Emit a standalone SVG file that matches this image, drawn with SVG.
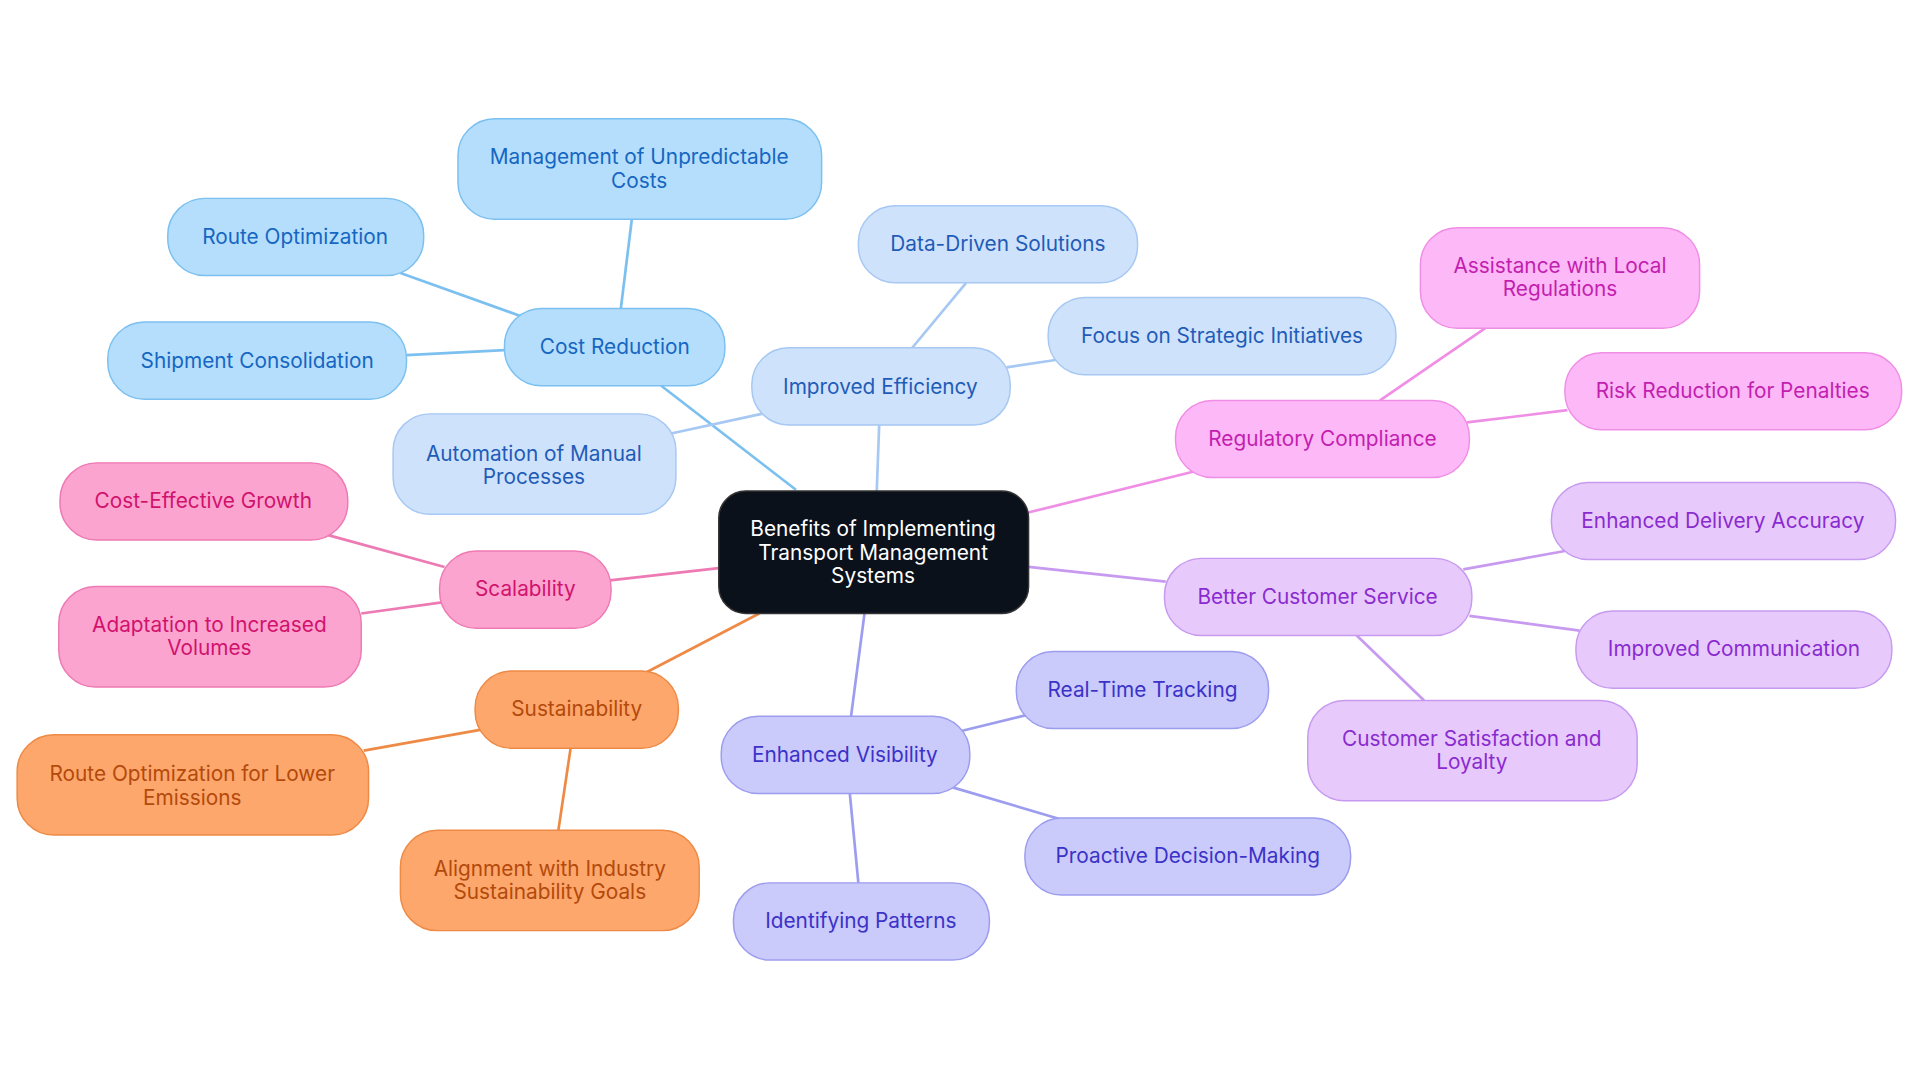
<svg xmlns="http://www.w3.org/2000/svg" width="1920" height="1083" viewBox="0 0 1920 1083">
<style>
text{font-family:Inter,"Open Sans","Liberation Sans",sans-serif;font-size:17px;text-anchor:middle;dominant-baseline:central}
rect{stroke-width:1.2}
line{stroke-width:2.2}
.c rect{fill:#b5defc;stroke:#7cc0f0}.c text{fill:#1666c2}.c line{stroke:#7cc0f0}
.e rect{fill:#cfe2fb;stroke:#a6c8f3}.e text{fill:#1f5cb8}.e line{stroke:#a6c8f3}
.r rect{fill:#fdb8f7;stroke:#f08ee6}.r text{fill:#c21fb0}.r line{stroke:#f08ee6}
.s rect{fill:#e7cafb;stroke:#c79af0}.s text{fill:#8a2bd0}.s line{stroke:#c79af0}
.v rect{fill:#cacafb;stroke:#9d9df0}.v text{fill:#3b32c8}.v line{stroke:#9d9df0}
.u rect{fill:#fda76c;stroke:#ee8a45}.u text{fill:#b34a0c}.u line{stroke:#ee8a45}
.k rect{fill:#fca4d0;stroke:#ee7ab3}.k text{fill:#d1126d}.k line{stroke:#ee7ab3}
</style>
<rect width="1920" height="1083" fill="#fff"/>
<g transform="scale(1.2245)">
<g id="connectors">
<g class="c"><line x1="650" y1="400" x2="540" y2="315"/><line x1="507" y1="252" x2="516" y2="179"/><line x1="425" y1="258" x2="327" y2="223"/><line x1="412" y1="286" x2="332" y2="290"/></g>
<g class="e"><line x1="716" y1="401" x2="718" y2="347"/><line x1="745" y1="284" x2="789" y2="231"/><line x1="822" y1="300" x2="862" y2="294"/><line x1="622" y1="338" x2="548" y2="354"/></g>
<g class="r"><line x1="838" y1="419" x2="975" y2="385"/><line x1="1127" y1="327" x2="1213" y2="268"/><line x1="1198" y1="345" x2="1280" y2="335"/></g>
<g class="s"><line x1="840" y1="463" x2="952" y2="475"/><line x1="1195" y1="465" x2="1278" y2="450"/><line x1="1200" y1="503" x2="1290" y2="515"/><line x1="1108" y1="519" x2="1163" y2="572"/></g>
<g class="v"><line x1="706" y1="501" x2="695" y2="585"/><line x1="785" y1="597" x2="838" y2="584"/><line x1="778" y1="643" x2="866" y2="669"/><line x1="694" y1="648" x2="701" y2="721"/></g>
<g class="u"><line x1="620" y1="501" x2="528" y2="549"/><line x1="392" y1="596" x2="297" y2="613"/><line x1="466" y1="611" x2="456" y2="678"/></g>
<g class="k"><line x1="587" y1="464" x2="498" y2="474"/><line x1="363" y1="463" x2="268" y2="437"/><line x1="361" y1="492" x2="295" y2="501"/></g>
</g>
<g id="center"><rect x="587" y="401" width="253" height="100" rx="22" fill="#0b111b" stroke="#333"/><text fill="#fff" x="713" y="432">Benefits of Implementing</text><text fill="#fff" x="713" y="451">Transport Management</text><text fill="#fff" x="713" y="470">Systems</text></g>
<g id="cost" class="c"><rect x="412" y="252" width="180" height="63" rx="30"/><text x="502" y="283">Cost Reduction</text></g>
<g id="mgmt" class="c"><rect x="374" y="97" width="297" height="82" rx="30"/><text x="522" y="128">Management of Unpredictable</text><text x="522" y="147">Costs</text></g>
<g id="route" class="c"><rect x="137" y="162" width="209" height="63" rx="30"/><text x="241" y="193">Route Optimization</text></g>
<g id="ship" class="c"><rect x="88" y="263" width="244" height="63" rx="30"/><text x="210" y="294">Shipment Consolidation</text></g>
<g id="eff" class="e"><rect x="614" y="284" width="211" height="63" rx="30"/><text x="719" y="316">Improved Efficiency</text></g>
<g id="data" class="e"><rect x="701" y="168" width="228" height="63" rx="30"/><text x="815" y="199">Data-Driven Solutions</text></g>
<g id="focus" class="e"><rect x="856" y="243" width="284" height="63" rx="30"/><text x="998" y="274">Focus on Strategic Initiatives</text></g>
<g id="auto" class="e"><rect x="321" y="338" width="231" height="82" rx="30"/><text x="436" y="370">Automation of Manual</text><text x="436" y="389">Processes</text></g>
<g id="reg" class="r"><rect x="960" y="327" width="240" height="63" rx="30"/><text x="1080" y="358">Regulatory Compliance</text></g>
<g id="assist" class="r"><rect x="1160" y="186" width="228" height="82" rx="30"/><text x="1274" y="217">Assistance with Local</text><text x="1274" y="236">Regulations</text></g>
<g id="risk" class="r"><rect x="1278" y="288" width="275" height="63" rx="30"/><text x="1415" y="319">Risk Reduction for Penalties</text></g>
<g id="cust" class="s"><rect x="951" y="456" width="251" height="63" rx="30"/><text x="1076" y="487">Better Customer Service</text></g>
<g id="enh" class="s"><rect x="1267" y="394" width="281" height="63" rx="30"/><text x="1407" y="425">Enhanced Delivery Accuracy</text></g>
<g id="comm" class="s"><rect x="1287" y="499" width="258" height="63" rx="30"/><text x="1416" y="530">Improved Communication</text></g>
<g id="sat" class="s"><rect x="1068" y="572" width="269" height="82" rx="30"/><text x="1202" y="603">Customer Satisfaction and</text><text x="1202" y="622">Loyalty</text></g>
<g id="vis" class="v"><rect x="589" y="585" width="203" height="63" rx="30"/><text x="690" y="616">Enhanced Visibility</text></g>
<g id="real" class="v"><rect x="830" y="532" width="206" height="63" rx="30"/><text x="933" y="563">Real-Time Tracking</text></g>
<g id="pro" class="v"><rect x="837" y="668" width="266" height="63" rx="30"/><text x="970" y="699">Proactive Decision-Making</text></g>
<g id="ident" class="v"><rect x="599" y="721" width="209" height="63" rx="30"/><text x="703" y="752">Identifying Patterns</text></g>
<g id="sust" class="u"><rect x="388" y="548" width="166" height="63" rx="30"/><text x="471" y="579">Sustainability</text></g>
<g id="rolow" class="u"><rect x="14" y="600" width="287" height="82" rx="30"/><text x="157" y="632">Route Optimization for Lower</text><text x="157" y="651">Emissions</text></g>
<g id="align" class="u"><rect x="327" y="678" width="244" height="82" rx="30"/><text x="449" y="709">Alignment with Industry</text><text x="449" y="728">Sustainability Goals</text></g>
<g id="scal" class="k"><rect x="359" y="450" width="140" height="63" rx="30"/><text x="429" y="481">Scalability</text></g>
<g id="growth" class="k"><rect x="49" y="378" width="235" height="63" rx="30"/><text x="166" y="409">Cost-Effective Growth</text></g>
<g id="adapt" class="k"><rect x="48" y="479" width="247" height="82" rx="30"/><text x="171" y="510">Adaptation to Increased</text><text x="171" y="529">Volumes</text></g>
</g>
</svg>
